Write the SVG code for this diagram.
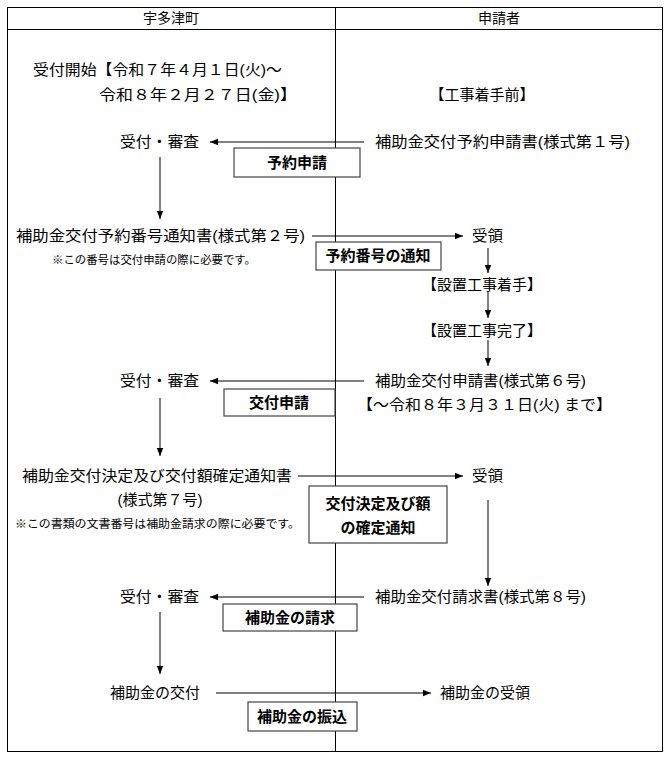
<svg xmlns="http://www.w3.org/2000/svg" width="670" height="760" viewBox="0 0 670 760">
<style>
text{font-family:"Liberation Sans","Noto Sans CJK JP",sans-serif;font-size:15px;fill:#000}
.h{font-size:14px}
.s{font-size:11px}
.b{font-weight:bold;font-size:15px}
.m{text-anchor:middle}
.ln{stroke:#000;stroke-width:1;fill:none}
.bx{fill:#fff;stroke:#444;stroke-width:1.2}
</style>
<defs><marker id="a" viewBox="0 0 10 10" refX="10" refY="5" markerWidth="8" markerHeight="8" markerUnits="userSpaceOnUse" orient="auto"><path d="M0,1 L10,5 L0,9z" fill="#000"/></marker></defs>
<rect x="7.5" y="7.5" width="655" height="744" fill="#fff" stroke="#000"/>
<line x1="7" y1="29.5" x2="662" y2="29.5" class="ln"/>
<line x1="335.5" y1="8" x2="335.5" y2="752" class="ln"/>
<text x="171" y="23" class="m h">宇多津町</text>
<text x="499" y="23" class="m h">申請者</text>
<text x="33" y="75" textLength="249" lengthAdjust="spacingAndGlyphs">受付開始【令和７年４月１日(火)～</text>
<text x="99" y="100" textLength="198" lengthAdjust="spacingAndGlyphs">令和８年２月２７日(金)】</text>
<text x="482" y="100" class="m">【工事着手前】</text>
<g id="connectors">
<line x1="364" y1="142" x2="210" y2="142" class="ln" marker-end="url(#a)"/>
<line x1="160" y1="157" x2="160" y2="219" class="ln" marker-end="url(#a)"/>
<line x1="312" y1="236" x2="463" y2="236" class="ln" marker-end="url(#a)"/>
<line x1="488" y1="248" x2="488" y2="273" class="ln" marker-end="url(#a)"/>
<line x1="488" y1="292" x2="488" y2="318" class="ln" marker-end="url(#a)"/>
<line x1="488" y1="340" x2="488" y2="366" class="ln" marker-end="url(#a)"/>
<line x1="364" y1="381" x2="210" y2="381" class="ln" marker-end="url(#a)"/>
<line x1="160" y1="398" x2="160" y2="456" class="ln" marker-end="url(#a)"/>
<line x1="298" y1="476" x2="463" y2="476" class="ln" marker-end="url(#a)"/>
<line x1="488" y1="500" x2="488" y2="586" class="ln" marker-end="url(#a)"/>
<line x1="364" y1="597" x2="210" y2="597" class="ln" marker-end="url(#a)"/>
<line x1="160" y1="612" x2="160" y2="674" class="ln" marker-end="url(#a)"/>
<line x1="216" y1="693" x2="431" y2="693" class="ln" marker-end="url(#a)"/>
</g>
<g id="n1"><text x="120" y="147" textLength="79" lengthAdjust="spacingAndGlyphs">受付・審査</text></g>
<g id="n2"><text x="375" y="147" textLength="255" lengthAdjust="spacingAndGlyphs">補助金交付予約申請書(様式第１号)</text></g>
<g id="b1"><rect x="234" y="148" width="126" height="29" class="bx"/><text x="297" y="168" class="m b">予約申請</text></g>
<g id="n3"><text x="16" y="241" textLength="289" lengthAdjust="spacingAndGlyphs">補助金交付予約番号通知書(様式第２号)</text><text x="52" y="264" class="s" textLength="204" lengthAdjust="spacingAndGlyphs">※この番号は交付申請の際に必要です。</text></g>
<g id="n4"><text x="472" y="241" textLength="31" lengthAdjust="spacingAndGlyphs">受領</text></g>
<g id="b2"><rect x="316" y="242" width="125" height="28" class="bx"/><text x="378" y="261" class="m b">予約番号の通知</text></g>
<g id="n5"><text x="482" y="290" class="m">【設置工事着手】</text></g>
<g id="n6"><text x="482" y="336" class="m">【設置工事完了】</text></g>
<g id="n7"><text x="120" y="386" textLength="79" lengthAdjust="spacingAndGlyphs">受付・審査</text></g>
<g id="n8"><text x="375" y="386" textLength="211" lengthAdjust="spacingAndGlyphs">補助金交付申請書(様式第６号)</text><text x="357" y="410" textLength="255" lengthAdjust="spacingAndGlyphs">【～令和８年３月３１日(火) まで】</text></g>
<g id="b3"><rect x="224" y="389" width="111" height="27" class="bx"/><text x="279" y="408" class="m b">交付申請</text></g>
<g id="n9"><text x="22" y="481" textLength="270" lengthAdjust="spacingAndGlyphs">補助金交付決定及び交付額確定通知書</text><text x="160" y="505" class="m">(様式第７号)</text><text x="15" y="528" class="s" textLength="285" lengthAdjust="spacingAndGlyphs">※この書類の文書番号は補助金請求の際に必要です。</text></g>
<g id="n10"><text x="472" y="481" textLength="31" lengthAdjust="spacingAndGlyphs">受領</text></g>
<g id="b4"><rect x="309" y="486" width="138" height="57" class="bx"/><text x="378" y="509" class="m b">交付決定及び額</text><text x="378" y="533" class="m b">の確定通知</text></g>
<g id="n11"><text x="120" y="602" textLength="79" lengthAdjust="spacingAndGlyphs">受付・審査</text></g>
<g id="n12"><text x="375" y="602" textLength="211" lengthAdjust="spacingAndGlyphs">補助金交付請求書(様式第８号)</text></g>
<g id="b5"><rect x="223" y="604" width="134" height="27" class="bx"/><text x="290" y="623" class="m b">補助金の請求</text></g>
<g id="n13"><text x="110" y="698">補助金の交付</text></g>
<g id="n14"><text x="440" y="698">補助金の受領</text></g>
<g id="b6"><rect x="248" y="702" width="109" height="29" class="bx"/><text x="302" y="722" class="m b">補助金の振込</text></g>
</svg>
